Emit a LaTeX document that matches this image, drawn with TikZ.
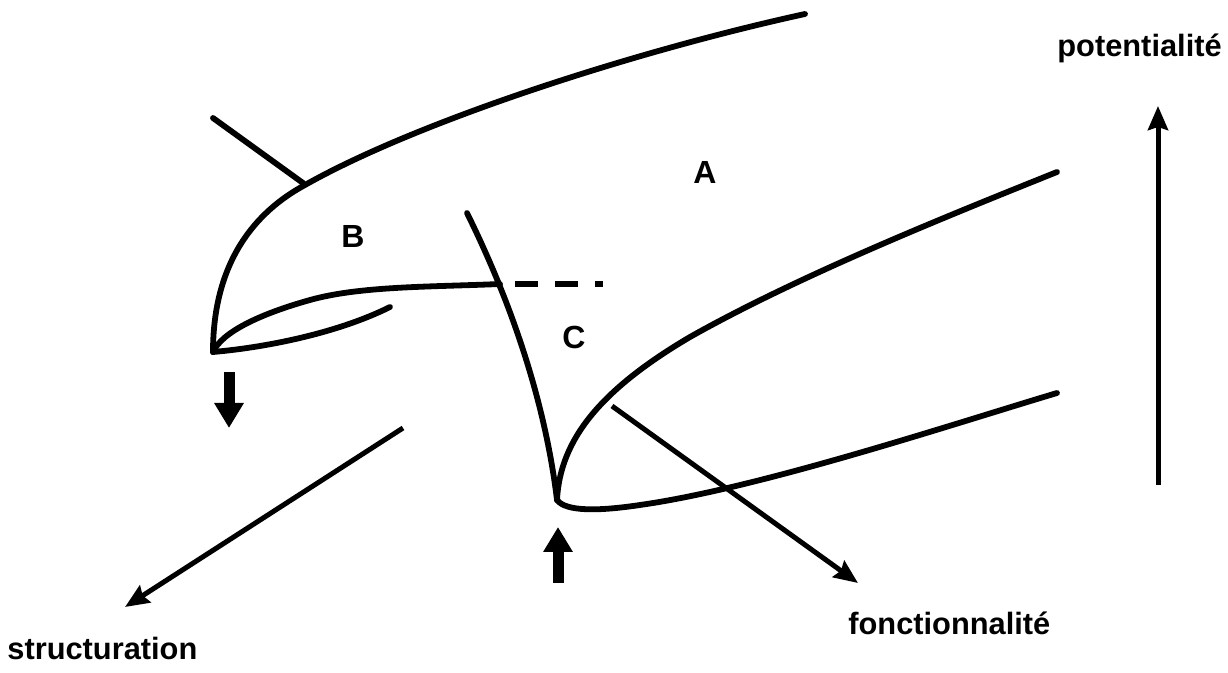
\documentclass[tikz,border=0pt]{standalone}
\usepackage{fontspec}
\setmainfont{Liberation Sans}
\usetikzlibrary{arrows.meta}
\tikzset{
  curve/.style={line width=2.9pt, line cap=round, line join=round},
  thinarrow/.style={line width=2.5pt, -{Stealth[length=12pt,width=10pt,inset=1.5pt]}},
  fatarrow/.style={line width=5.5pt, -{Triangle[length=12.5pt,width=14pt]}},
  axislabel/.style={font=\fontsize{15.4}{18}\selectfont\bfseries, inner sep=0pt, anchor=base west},
  region/.style={font=\fontsize{16}{18}\selectfont\bfseries, inner sep=0pt}
}
\begin{document}
\begin{tikzpicture}[x=0.5pt,y=-0.5pt]
\useasboundingbox (0,0) rectangle (1228,673);
% key points
\coordinate (cuspB) at (213,352);
\coordinate (cuspC) at (557,500);
\coordinate (meet) at (500,284);
\coordinate (bmid) at (305,185);
\coordinate (bend) at (805,14);
\coordinate (tickA) at (213,118);
\coordinate (tickB) at (303,183);
\coordinate (innerM) at (310,300);
\coordinate (innerEnd) at (390,307);
\coordinate (cTop) at (467,213);
\coordinate (dashS) at (515,284);
\coordinate (dashE) at (603,284);
\coordinate (lowM) at (640,505);
\coordinate (lowEnd) at (1057,393);
\coordinate (upM) at (690,337);
\coordinate (upEnd) at (1057,172);
% upper B curve
\draw[curve] (cuspB) .. controls (213,262) and (255,212) .. (bmid)
                     .. controls (420,120) and (640,50) .. (bend);
\draw[curve] (tickA) -- (tickB);
% inner curves at B cusp
\draw[curve] (cuspB) .. controls (222,332) and (260,314) .. (innerM)
                     .. controls (360,286) and (430,287) .. (meet);
\draw[curve] (cuspB) .. controls (270,347) and (340,332) .. (innerEnd);
% dashed continuation
\draw[line width=2.9pt, dash pattern=on 11.5pt off 8.5pt] (dashS) -- (dashE);
% C curve
\draw[curve] (cTop) .. controls (510,300) and (545,400) .. (cuspC);
% lower right branch
\draw[curve] (cuspC) .. controls (566,512) and (600,511) .. (lowM)
                     .. controls (760,488) and (950,425) .. (lowEnd);
% upper right branch
\draw[curve] (cuspC) .. controls (560,440) and (600,390) .. (upM)
                     .. controls (800,275) and (950,215) .. (upEnd);
% fat arrows
\coordinate (dA) at (229,372); \coordinate (dB) at (229,428);
\draw[fatarrow] (dA) -- (dB);
\coordinate (uA) at (558,583); \coordinate (uB) at (558,527);
\draw[fatarrow] (uA) -- (uB);
% axes arrows
\coordinate (sA) at (403,428); \coordinate (sB) at (125,607);
\draw[thinarrow] (sA) -- (sB);
\coordinate (fA) at (612,406); \coordinate (fB) at (858,583);
\draw[thinarrow] (fA) -- (fB);
\coordinate (pA) at (1158,485); \coordinate (pB) at (1158,106);
\draw[thinarrow] (pA) -- (pB);
% labels
\node[region] (A) at (705,172) {A};
\node[region] (B) at (353,236) {B};
\node[region] (C) at (574,337) {C};
\node[axislabel] (struct) at (7,660) {structuration};
\node[axislabel] (fonct) at (848,635) {fonctionnalité};
\node[axislabel] (pot) at (1057,57) {potentialité};
\end{tikzpicture}
\end{document}
